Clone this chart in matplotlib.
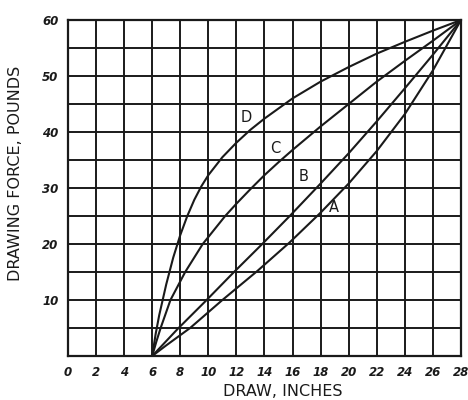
import numpy as np
import matplotlib
matplotlib.use("Agg")
import matplotlib.pyplot as plt

# draw (inches) vs drawing force (pounds) for four bows
draw_a = [6, 7, 8.7, 11, 13.5, 15.8, 18, 20, 22, 24, 26, 28]
force_a = [0, 1.9, 5, 10, 15.2, 20.3, 25.6, 30.8, 36.6, 43.2, 51, 60]

draw_b = [6, 7.8, 9.8, 11.75, 13.8, 15.8, 18, 20, 22, 24, 26, 28]
force_b = [0, 4.8, 9.8, 14.8, 19.9, 25, 30.8, 36.2, 41.9, 47.8, 53.8, 60]

draw_c = [6, 6.3, 6.6, 7.3, 8.35, 9.6, 11.2, 12, 13, 14, 15, 16, 18, 20, 22, 24, 26, 28]
force_c = [0, 2.6, 5, 10, 15, 20, 25, 27.2, 29.8, 32.3, 34.6, 36.8, 41, 45, 49, 52.7, 56.3, 60]

draw_d = [6, 6.25, 6.5, 7, 7.5, 8, 8.5, 9, 9.5, 10, 11, 12, 13, 14, 16, 18, 20, 22, 24, 26, 28]
force_d = [0, 4, 7.3, 12.8, 17.6, 21.6, 25, 27.9, 30.3, 32.3, 35.5, 38.1, 40.4, 42.4, 46, 49, 51.6, 54, 56.1, 58.1, 60]

curve_names = ["A", "B", "C", "D"]
label_pos = [(18.95, 26.6), (16.8, 32.1), (14.8, 37.0), (12.7, 42.6)]

x_ticks = list(range(0, 29, 2))
y_ticks = [10, 20, 30, 40, 50, 60]
y_grid = list(range(0, 61, 5))

fig = plt.figure(figsize=(4.68, 4.0), dpi=100)
ax = fig.add_axes([0.1453, 0.11, 0.8397, 0.84])

ink = "#1a1a1a"

# grid: every 2 inches, every 5 pounds
for gx in x_ticks:
    ax.axvline(gx, color=ink, lw=1.4, zorder=1)
for gy in y_grid:
    ax.axhline(gy, color=ink, lw=1.4, zorder=1)

for xs, ys in [(draw_a, force_a), (draw_b, force_b), (draw_c, force_c), (draw_d, force_d)]:
    ax.plot(xs, ys, color=ink, lw=1.5, zorder=3, solid_joinstyle="round")

for name, (lx, ly) in zip(curve_names, label_pos):
    ax.text(lx, ly, name, ha="center", va="center", fontsize=10.5, color=ink, zorder=4)

ax.set_xlim(0, 28)
ax.set_ylim(0, 60)
ax.set_xticks(x_ticks)
ax.set_yticks(y_ticks)
ax.tick_params(length=0, pad=7, labelsize=8.5, colors=ink)
for lab in ax.get_xticklabels() + ax.get_yticklabels():
    lab.set_fontweight("bold")
    lab.set_fontstyle("italic")

for s in ax.spines.values():
    s.set_color(ink)
    s.set_linewidth(1.6)

ax.set_xlabel("DRAW, INCHES", fontsize=11.5, color=ink, va="center")
ax.xaxis.set_label_coords(0.547, -0.105)
ax.set_ylabel("DRAWING FORCE, POUNDS", fontsize=11.5, color=ink)
ax.yaxis.set_label_coords(-0.115, 0.545)

fig.savefig("out.png", dpi=100)
